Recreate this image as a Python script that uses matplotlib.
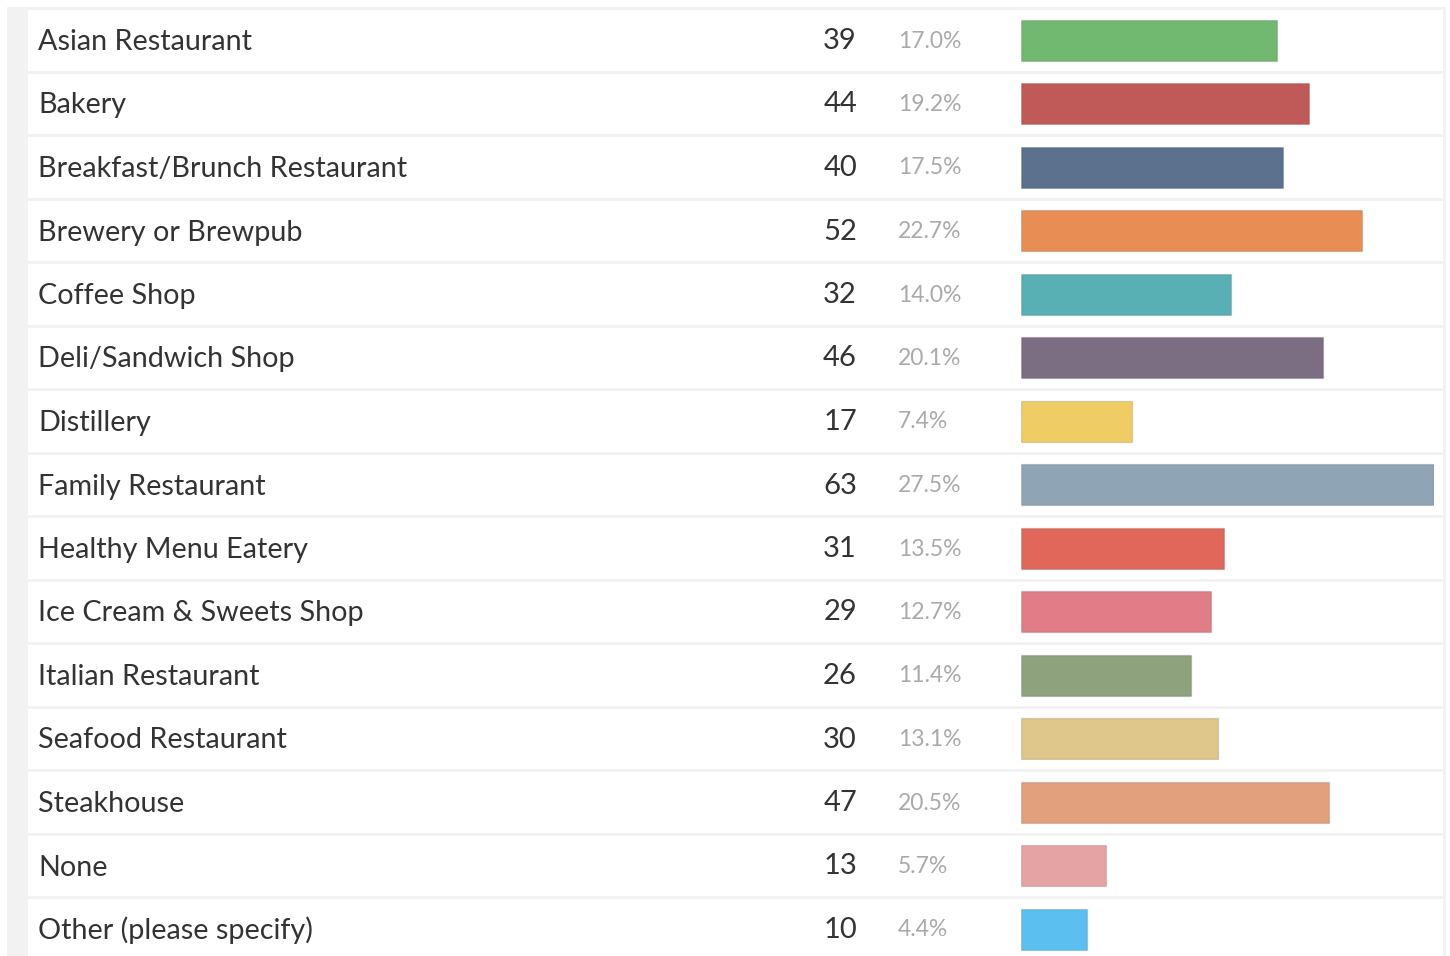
import matplotlib
matplotlib.use("Agg")
import matplotlib.pyplot as plt
from matplotlib.patches import Rectangle

categories = ["Asian Restaurant", "Bakery", "Breakfast/Brunch Restaurant", "Brewery or Brewpub",
              "Coffee Shop", "Deli/Sandwich Shop", "Distillery", "Family Restaurant",
              "Healthy Menu Eatery", "Ice Cream & Sweets Shop", "Italian Restaurant",
              "Seafood Restaurant", "Steakhouse", "None", "Other (please specify)"]
counts = [39, 44, 40, 52, 32, 46, 17, 63, 31, 29, 26, 30, 47, 13, 10]
percents = ["17.0%", "19.2%", "17.5%", "22.7%", "14.0%", "20.1%", "7.4%", "27.5%",
            "13.5%", "12.7%", "11.4%", "13.1%", "20.5%", "5.7%", "4.4%"]
colors = ["#71b971", "#c05a58", "#5b718d", "#e88e55", "#58b0b5", "#7b6e82", "#f0cd64",
          "#8fa4b5", "#e0675a", "#e07d86", "#8fa27e", "#dfc68a", "#e2a07c", "#e6a3a4", "#5bc0f0"]

W, H = 1450, 956
DPI = 100
fig = plt.figure(figsize=(W / DPI, H / DPI), dpi=DPI)
fig.patch.set_facecolor("white")

pitch = 63.5
c0 = 40.0
ytop = -c0 / pitch
ybot = (H - c0) / pitch

ax = fig.add_axes([0, 0, 1, 1])
ax.set_xlim(0, W)
ax.set_ylim(ybot, ytop)
ax.axis("off")

# background panel
ax.add_patch(Rectangle((7, ytop + 7 / pitch), 1446 - 7, ybot - ytop, facecolor="#f2f2f2",
                       edgecolor="none", zorder=0))
n = len(categories)
half = 30 / pitch
for i in range(n):
    ax.add_patch(Rectangle((28, i - half), 1443 - 28, 2 * half + 0.5 / pitch,
                           facecolor="white", edgecolor="none", zorder=1))

font = "Lato"
for i, (cat, cnt, pct) in enumerate(zip(categories, counts, percents)):
    ax.text(38, i + 10 / pitch, cat, fontsize=20.7, family=font, color="#333333",
            va="baseline", ha="left", zorder=3)
    ax.text(857, i + 9 / pitch, str(cnt), fontsize=21, family=font, color="#333333",
            va="baseline", ha="right", zorder=3)
    ax.text(898, i + 7.5 / pitch, pct, fontsize=16.5, family=font,
            color="#aaaaaa", va="baseline", ha="left", zorder=3)

# bar axes
x0, x1 = 1021, 1434
bax = fig.add_axes([x0 / W, 0, (x1 - x0) / W, 1])
bax.set_xlim(0, max(counts))
bax.set_ylim(ybot, ytop)
bax.axis("off")
bax.patch.set_alpha(0)
bax.barh(range(n), counts, height=41 / pitch, left=0, color=colors,
         edgecolor=(0, 0, 0, 0.12), linewidth=1, zorder=3)

fig.savefig("out.png", dpi=DPI)
